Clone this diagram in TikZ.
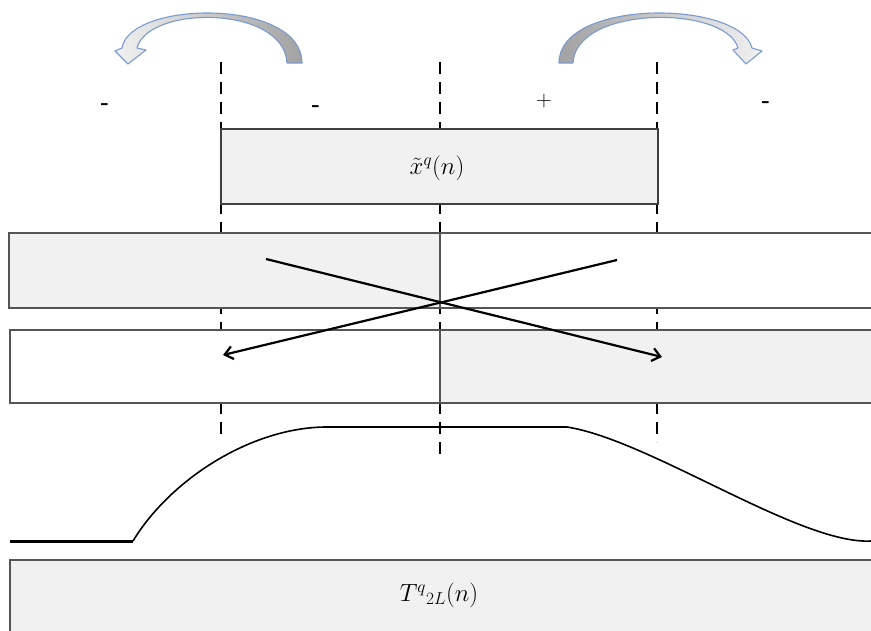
\documentclass[tikz,border=0pt]{standalone}
\usepackage{amsmath,amssymb}
\usepackage{tikz}
\usetikzlibrary{arrows.meta,positioning,calc}
\definecolor{BoxGray}{HTML}{F1F1F1}
\definecolor{EdgeGray}{HTML}{555555}
\definecolor{ArcBlue}{HTML}{7B9BD0}
\definecolor{ArcDark}{HTML}{A2A2A2}

\begin{document}
\begin{tikzpicture}[x=1pt,y=-1pt,
    band/.style={draw=EdgeGray,line width=1.2pt,inner sep=0pt,outer sep=0pt,
                 anchor=north west,minimum height=75pt},
    guide/.style={line width=2.8pt,dash pattern=on 12pt off 8pt},
    cross/.style={line width=2.2pt,-{Straight Barb[length=8pt,width=13pt,line width=2.2pt]}},
    foldarc/.style={draw=ArcBlue,line width=1.1pt,line join=round},
    sign/.style={font=\fontsize{22}{24}\selectfont}]
  \useasboundingbox (0,0) rectangle (871,630);
  % Window boundaries
  \coordinate (d1t) at (221,62); \coordinate (d1b) at (221,436);
  \coordinate (d2t) at (440,62); \coordinate (d2b) at (440,456);
  \coordinate (d3t) at (657,62); \coordinate (d3b) at (657,442);
  \draw[guide] (d1t) -- (d1b);
  \draw[guide] (d2t) -- (d2b);
  \draw[guide] (d3t) -- (d3b);
  % Folding arrows
  \path[foldarc,left color=BoxGray,right color=ArcDark]
    (302,63) .. controls (302,-2) and (130,0) .. (122,48) -- (115,51)
    -- (128,64) -- (146,50) -- (137,48) .. controls (148,5) and (284,5) .. (287,63) -- cycle;
  \path[foldarc,left color=ArcDark,right color=BoxGray]
    (559,63) .. controls (559,-2) and (740,0) .. (752,48) -- (762,51)
    -- (746,64) -- (733,50) -- (738,48) .. controls (726,5) and (576,5) .. (573,63) -- cycle;
  % Signs
  \node[sign] (s1) at (105,107) {\bfseries -};
  \node[sign] (s2) at (316,109) {\bfseries -};
  \node[sign] (s3) at (544,101) {+};
  \node[sign] (s4) at (766,105) {\bfseries -};
  % Input block
  \node[band,fill=BoxGray,minimum width=437pt,draw=black!75] (xin) at (221,129) {};
  \node (xlab) at (437,168) {\fontsize{24}{28}\selectfont$\tilde{x}^{q}(n)$};
  % Folded halves
  \node[band,fill=BoxGray,minimum width=431pt] (upL) at (9,233) {};
  \node[band,fill=white,minimum width=440pt] (upR) at (440,233) {};
  \node[band,fill=white,minimum width=431pt,minimum height=73pt] (loL) at (10,330) {};
  \node[band,fill=BoxGray,minimum width=440pt,minimum height=73pt] (loR) at (440,330) {};
  \coordinate (a1) at (266,259); \coordinate (a2) at (662,357);
  \coordinate (b1) at (617,260); \coordinate (b2) at (223,355);
  \draw[cross] (a1) -- (a2);
  \draw[cross] (b1) -- (b2);
  % Window shape
  \draw[line width=3pt] (10,541) -- (133,541);
  \draw[line width=1.6pt,line join=round] (133,541) .. controls (170,480) and (250,428) .. (325,427)
    -- (567,427) .. controls (650,440) and (800,545) .. (871,541);
  % Window block
  \node[band,fill=BoxGray,minimum width=862pt,minimum height=80pt] (win) at (10,560) {};
  \node (wlab) at (439,595) {\fontsize{24}{28}\selectfont$T^{q}{}_{2L}(n)$};
\end{tikzpicture}
\end{document}
